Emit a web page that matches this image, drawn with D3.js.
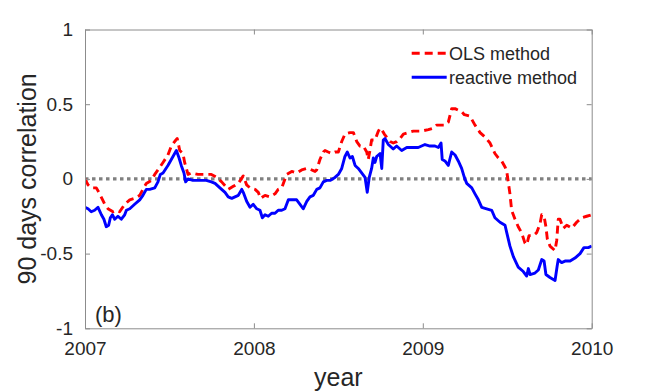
<!DOCTYPE html>
<html><head><meta charset="utf-8">
<script src="https://cdn.jsdelivr.net/npm/d3@7"></script>
<style>html,body{margin:0;padding:0;background:#fff;}svg{display:block;font-family:"Liberation Sans",Arial,Helvetica,sans-serif;}</style>
</head><body>
<svg id="chart" width="654" height="392"></svg>
<script>
const xTicks = [2007, 2008, 2009, 2010];
const xTickLabels = ["2007", "2008", "2009", "2010"];
const yTicks = [-1, -0.5, 0, 0.5, 1];
const yTickLabels = ["-1", "-0.5", "0", "0.5", "1"];
const seriesNames = ["OLS method", "reactive method"];

const olsYears = [2007.000,2007.018,2007.037,2007.067,2007.087,2007.117,2007.136,2007.166,2007.185,2007.205,
2007.235,2007.265,2007.294,2007.324,2007.343,2007.363,2007.393,2007.413,2007.432,2007.462,
2007.491,2007.511,2007.531,2007.546,2007.561,2007.580,2007.590,2007.610,2007.629,2007.669,
2007.709,2007.748,2007.780,2007.809,2007.848,2007.878,2007.908,2007.937,2007.957,2007.977,
2008.007,2008.026,2008.040,2008.066,2008.095,2008.125,2008.144,2008.165,2008.194,2008.224,
2008.253,2008.283,2008.313,2008.322,2008.362,2008.372,2008.391,2008.411,2008.421,2008.440,
2008.461,2008.480,2008.500,2008.520,2008.539,2008.569,2008.589,2008.609,2008.628,2008.648,
2008.668,2008.677,2008.687,2008.697,2008.717,2008.737,2008.747,2008.757,2008.772,2008.786,
2008.806,2008.825,2008.845,2008.865,2008.885,2008.914,2008.944,2008.973,2008.993,2009.033,
2009.062,2009.082,2009.112,2009.131,2009.151,2009.171,2009.191,2009.210,2009.230,2009.246,
2009.279,2009.309,2009.339,2009.368,2009.398,2009.427,2009.447,2009.467,2009.487,2009.497,
2009.506,2009.516,2009.526,2009.546,2009.565,2009.585,2009.605,2009.615,2009.629,2009.654,
2009.674,2009.694,2009.704,2009.718,2009.729,2009.737,2009.753,2009.783,2009.793,2009.802,
2009.812,2009.832,2009.852,2009.882,2009.911,2009.941,2009.970,2010.000];
const olsValues = [0.00,-0.04,-0.06,-0.06,-0.10,-0.17,-0.20,-0.22,-0.21,-0.22,
-0.17,-0.14,-0.13,-0.11,-0.07,-0.03,-0.01,0.03,0.06,0.11,
0.16,0.22,0.25,0.27,0.19,0.17,0.11,0.03,0.04,0.03,
0.03,0.03,0.01,-0.02,-0.07,-0.05,-0.03,0.02,-0.04,-0.06,
-0.07,-0.09,-0.13,-0.11,-0.12,-0.10,-0.07,-0.06,0.03,0.05,
0.04,0.06,0.07,0.07,0.05,0.06,0.13,0.18,0.19,0.18,
0.17,0.18,0.18,0.25,0.30,0.31,0.31,0.25,0.22,0.22,
0.18,0.13,0.19,0.26,0.26,0.32,0.34,0.33,0.30,0.28,
0.25,0.24,0.25,0.27,0.30,0.31,0.32,0.32,0.32,0.33,
0.34,0.36,0.36,0.36,0.38,0.47,0.47,0.46,0.45,0.43,
0.42,0.36,0.31,0.28,0.24,0.17,0.14,0.12,0.08,0.05,
-0.02,-0.10,-0.21,-0.27,-0.32,-0.36,-0.43,-0.44,-0.38,-0.38,
-0.36,-0.30,-0.24,-0.25,-0.32,-0.40,-0.45,-0.48,-0.41,-0.27,
-0.27,-0.33,-0.31,-0.33,-0.29,-0.26,-0.25,-0.24];

const reactiveYears = [2007.000,2007.018,2007.037,2007.057,2007.077,2007.097,2007.112,2007.126,2007.140,2007.150,
2007.162,2007.176,2007.195,2007.215,2007.235,2007.245,2007.265,2007.294,2007.324,2007.343,
2007.363,2007.383,2007.413,2007.432,2007.446,2007.462,2007.491,2007.511,2007.531,2007.541,
2007.557,2007.570,2007.586,2007.596,2007.610,2007.639,2007.679,2007.718,2007.748,2007.770,
2007.799,2007.829,2007.848,2007.869,2007.888,2007.908,2007.928,2007.937,2007.957,2007.977,
2007.996,2008.017,2008.036,2008.050,2008.066,2008.085,2008.105,2008.125,2008.144,2008.165,
2008.184,2008.204,2008.224,2008.253,2008.273,2008.292,2008.313,2008.332,2008.352,2008.372,
2008.391,2008.411,2008.431,2008.451,2008.480,2008.500,2008.520,2008.539,2008.553,2008.569,
2008.583,2008.599,2008.618,2008.638,2008.658,2008.671,2008.683,2008.697,2008.707,2008.717,
2008.727,2008.747,2008.757,2008.766,2008.776,2008.796,2008.825,2008.845,2008.875,2008.905,
2008.934,2008.973,2009.013,2009.043,2009.072,2009.092,2009.108,2009.115,2009.131,2009.151,
2009.171,2009.191,2009.210,2009.230,2009.246,2009.260,2009.290,2009.309,2009.329,2009.349,
2009.378,2009.408,2009.427,2009.457,2009.487,2009.497,2009.516,2009.536,2009.565,2009.595,
2009.615,2009.625,2009.635,2009.664,2009.684,2009.704,2009.718,2009.729,2009.753,2009.783,
2009.796,2009.802,2009.822,2009.842,2009.872,2009.901,2009.931,2009.954,2009.980,2010.000];
const reactiveValues = [-0.19,-0.20,-0.22,-0.21,-0.19,-0.24,-0.27,-0.32,-0.31,-0.26,
-0.24,-0.27,-0.25,-0.27,-0.24,-0.21,-0.20,-0.17,-0.14,-0.11,
-0.07,-0.07,-0.06,-0.02,0.03,0.04,0.09,0.13,0.17,0.19,
0.14,0.09,0.04,-0.02,0.00,-0.01,-0.01,-0.01,-0.02,-0.03,
-0.06,-0.09,-0.12,-0.13,-0.12,-0.11,-0.07,-0.09,-0.15,-0.19,
-0.17,-0.20,-0.21,-0.26,-0.24,-0.25,-0.23,-0.23,-0.21,-0.21,
-0.20,-0.14,-0.14,-0.14,-0.17,-0.20,-0.15,-0.12,-0.11,-0.07,
-0.06,-0.02,-0.01,-0.01,0.01,0.03,0.07,0.15,0.18,0.14,
0.15,0.09,0.07,0.04,0.01,-0.09,0.01,0.07,0.14,0.11,
0.15,0.17,0.07,0.26,0.27,0.23,0.20,0.22,0.19,0.21,
0.21,0.21,0.23,0.22,0.22,0.21,0.24,0.13,0.12,0.09,
0.18,0.16,0.12,0.07,0.01,-0.03,-0.06,-0.10,-0.14,-0.19,
-0.20,-0.21,-0.26,-0.29,-0.31,-0.36,-0.45,-0.52,-0.59,-0.62,
-0.65,-0.60,-0.64,-0.63,-0.61,-0.54,-0.55,-0.64,-0.66,-0.68,
-0.58,-0.54,-0.56,-0.55,-0.55,-0.53,-0.50,-0.46,-0.46,-0.45];

(function () {
const svg = d3.select("#chart");
const pL = 85, pR = 591.7, pT = 29.5, pB = 328.3;
const x = d3.scaleLinear().domain([2007, 2010]).range([pL, pR]);
const y = d3.scaleLinear().domain([-1, 1]).range([pB, pT]);
const axisColor = "#8c8c8c", textColor = "#262626";

svg.append("defs").append("clipPath").attr("id", "clip")
  .append("rect").attr("x", pL).attr("y", pT).attr("width", pR - pL).attr("height", pB - pT);

// zero reference line
svg.append("line").attr("x1", x(2007)).attr("x2", x(2010)).attr("y1", y(0)).attr("y2", y(0))
  .attr("stroke", "#808080").attr("stroke-width", 3.2).attr("stroke-dasharray", "3.5,3.5");

const line = d3.line().x(d => x(d[0])).y(d => y(d[1]));
const olsData = olsYears.map((t, i) => [t, olsValues[i]]);
const reactiveData = reactiveYears.map((t, i) => [t, reactiveValues[i]]);

const g = svg.append("g").attr("clip-path", "url(#clip)");
g.append("path").datum(olsData).attr("d", line).attr("fill", "none")
  .attr("stroke", "#ff0000").attr("stroke-width", 2.9).attr("stroke-dasharray", "8,5")
  .attr("stroke-linejoin", "round");
g.append("path").datum(reactiveData).attr("d", line).attr("fill", "none")
  .attr("stroke", "#0000ff").attr("stroke-width", 2.9).attr("stroke-linejoin", "round");

// axes
const fmtX = (d, i) => xTickLabels[i];
const fmtY = (d, i) => yTickLabels[i];
function styleAxis(sel) {
  sel.selectAll("path.domain").attr("stroke", axisColor).attr("stroke-width", 1);
  sel.selectAll(".tick line").attr("stroke", axisColor).attr("stroke-width", 1);
  sel.selectAll(".tick text").attr("fill", textColor).attr("font-size", 19)
    .attr("font-family", '"Liberation Sans",Arial,sans-serif');
}
const xAxis = svg.append("g").attr("transform", `translate(0,${pB})`)
  .call(d3.axisBottom(x).tickValues(xTicks).tickFormat(fmtX).tickSizeInner(-5).tickSizeOuter(0).tickPadding(13));
styleAxis(xAxis);
const xAxisTop = svg.append("g").attr("transform", `translate(0,${pT})`)
  .call(d3.axisTop(x).tickValues(xTicks).tickFormat("").tickSizeInner(-5).tickSizeOuter(0));
styleAxis(xAxisTop);
const yAxis = svg.append("g").attr("transform", `translate(${pL},0)`)
  .call(d3.axisLeft(y).tickValues(yTicks).tickFormat(fmtY).tickSizeInner(-5).tickSizeOuter(0).tickPadding(12));
styleAxis(yAxis);
const yAxisRight = svg.append("g").attr("transform", `translate(${pR},0)`)
  .call(d3.axisRight(y).tickValues(yTicks).tickFormat("").tickSizeInner(-5).tickSizeOuter(0));
styleAxis(yAxisRight);

// axis titles
svg.append("text").attr("x", (pL + pR) / 2).attr("y", 386).attr("text-anchor", "middle")
  .attr("font-size", 25).attr("fill", textColor).text("year");
svg.append("text").attr("transform", `translate(36,${(pT + pB) / 2}) rotate(-90)`)
  .attr("text-anchor", "middle").attr("font-size", 25).attr("fill", textColor).text("90 days correlation");

// panel label
svg.append("text").attr("x", 95).attr("y", 322).attr("font-size", 22).attr("fill", textColor).text("(b)");

// legend
const legendRows = [
  {name: seriesNames[0], color: "#ff0000", dash: "8,5", ly: 53.3},
  {name: seriesNames[1], color: "#0000ff", dash: null, ly: 77.3}
];
legendRows.forEach(r => {
  svg.append("line").attr("x1", 411.7).attr("x2", 446.7).attr("y1", r.ly).attr("y2", r.ly)
    .attr("stroke", r.color).attr("stroke-width", 2.9).attr("stroke-dasharray", r.dash);
  svg.append("text").attr("x", 449).attr("y", r.ly + 6.5).attr("font-size", 18)
    .attr("fill", textColor).text(r.name);
});
})();
</script>
</body></html>
